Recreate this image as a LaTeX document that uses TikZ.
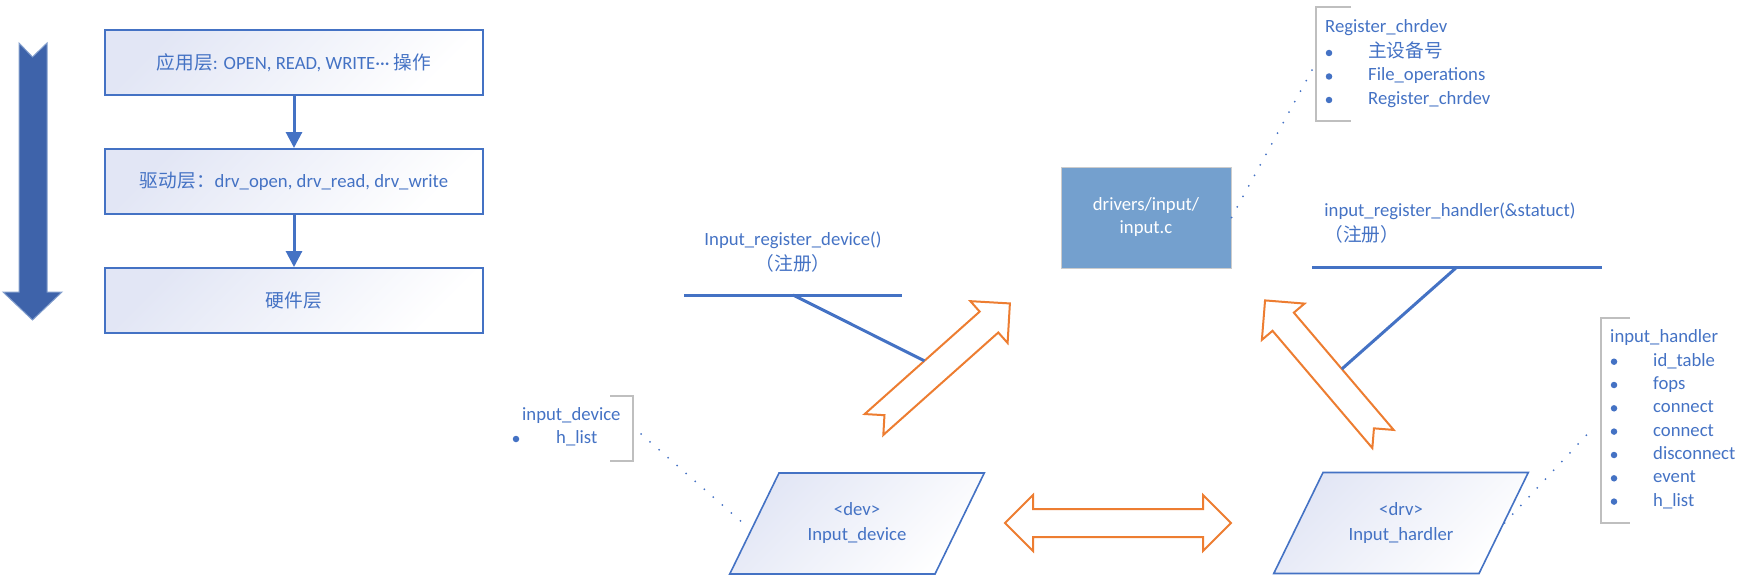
\documentclass[tikz,border=0pt]{standalone}
\usepackage{fontspec}
\setmainfont{Carlito}
\newfontfamily\cjk{Noto Sans CJK SC}
\usetikzlibrary{arrows.meta,shapes.geometric}

\definecolor{ink}{RGB}{68,114,196}
\definecolor{deepblue}{RGB}{62,99,170}
\definecolor{deepedge}{RGB}{130,158,205}
\definecolor{paleblue}{RGB}{226,230,245}
\definecolor{corefill}{RGB}{116,160,206}
\definecolor{oline}{RGB}{237,125,49}
\definecolor{brkgray}{RGB}{191,191,191}

\tikzset{
  blockarrow/.pic={
    \draw[oline, line width=2pt, fill=white, line join=miter]
      (0,-14) -- (14,0) -- (0,14) -- (154,14) -- (154,28)
      -- (182,0) -- (154,-28) -- (154,-14) -- cycle;
    \coordinate (-up) at (80,-14);
    \coordinate (-dn) at (80,14);
  }
}

\begin{document}
\begin{tikzpicture}[x=1pt, y=-1pt,
    every node/.style={font=\fontsize{18.7pt}{25pt}\selectfont, text=ink},
    layer/.style={draw=ink, line width=2pt, top color=paleblue, bottom color=white,
      shading angle=45, minimum width=378pt, minimum height=65pt},
    para/.style={trapezium, trapezium left angle=64, trapezium right angle=116,
      draw=ink, line width=1.6pt, top color=paleblue, bottom color=white,
      shading angle=45, text width=120pt, inner xsep=18pt, inner ysep=30pt,
      align=center},
    entry/.style={anchor=west, inner sep=0pt, text height=13pt, text depth=4pt},
    bul/.style={circle, fill=ink, inner sep=0pt, minimum size=6.5pt},
    callout/.style={draw=ink, line width=3pt},
    dots/.style={draw=ink, line width=2pt, line cap=round, dash pattern=on 0pt off 12pt},
    brk/.style={draw=brkgray, line width=1.5pt}]

  \useasboundingbox (0,0) rectangle (1744,583);

  % big downward arrow
  \filldraw[fill=deepblue, draw=deepedge, line width=1pt]
    (19,43) -- (32.5,57) -- (47,43) -- (47,292) -- (62,292)
    -- (32.5,320) -- (3,292) -- (19,292) -- cycle;

  \begin{scope}[every node/.style={layer, font=\fontsize{18.7pt}{25pt}\selectfont, text=ink}]
    \node (app) at (294,63) {{\cjk 应用层}: OPEN, READ, WRITE··· {\cjk 操作}};
    \node (drv) at (294,181.5) {{\cjk 驱动层：}drv\_open, drv\_read, drv\_write};
    \node (hw)  at (294,300.5) {{\cjk 硬件层}};
  \end{scope}

  \begin{scope}[every edge/.style={draw=ink, line width=3pt, -{Triangle[width=16pt,length=16pt]}}]
    \path (app) edge (drv);
    \path (drv) edge (hw);
  \end{scope}

  % input core
  \node[draw=gray!40, line width=1pt, fill=corefill, text=white, minimum width=170pt,
    minimum height=101pt, align=center,
    font=\fontsize{18.7pt}{23pt}\selectfont] (core) at (1146,217.5) {drivers/input/\\input.c};

  \draw[brk] (1351,7) -| (1316,121) -- (1351,121);
  \node[entry] (chrhead) at (1325,28) {Register\_chrdev};
  \node[bul] (chrb1) at (1329,53) {};
  \node[bul] (chrb2) at (1329,76.5) {};
  \node[bul] (chrb3) at (1329,100) {};
  \node[entry] (chr1) at (1368,53) {{\cjk 主设备号}};
  \node[entry] (chr2) at (1368,76.5) {File\_operations};
  \node[entry] (chr3) at (1368,100) {Register\_chrdev};
  \coordinate (chrdoc) at (1312,70);
  \draw[dots] (core.east) -- (chrdoc);

  % register labels
  \node[align=center] (regdev) at (793,252) {Input\_register\_device()\\{\cjk （注册）}};
  \node[align=left] (reghdl) at (1450,223) {input\_register\_handler(\&statuct)\\{\cjk （注册）}};
  \coordinate (regdevbar) at (793,295);
  \coordinate (reghdlbar) at (1457,267);

  \pic (larrow) [rotate=41.7] at (874,424.5) {blockarrow};
  \pic (rarrow) [rotate=130.4] at (1383,439) {blockarrow};

  \draw[callout] ([xshift=-109pt]regdevbar) -- ([xshift=109pt]regdevbar);
  \draw[callout] (regdevbar) -- (larrow-up);
  \draw[callout] ([xshift=-145pt]reghdlbar) -- ([xshift=145pt]reghdlbar);
  \draw[callout] (reghdlbar) -- (rarrow-dn);

  % dev and handler
  \node[para] (dev) at (857,523.5) {<dev>\\Input\_device};
  \node[para] (hdl) at (1401,523) {<drv>\\Input\_hardler};

  \draw[oline, line width=2pt, fill=white]
    (1005,523) -- (1033,495) -- (1033,509) -- (1203,509) -- (1203,495)
    -- (1231,523) -- (1203,551) -- (1203,537) -- (1033,537) -- (1033,551) -- cycle;

  \draw[brk] (610,396) -| (633,461) -- (610,461);
  \node[entry] (devhead) at (522,416) {input\_device};
  \node[bul] (devb1) at (516,439) {};
  \node[entry] (dev1) at (556,439) {h\_list};
  \coordinate (devdoc) at (641,434);
  \draw[dots] (devdoc) -- ([xshift=-10pt]dev.west);

  \draw[brk] (1630,318) -| (1601,523) -- (1630,523);
  \node[entry] (hdlhead) at (1610,338) {input\_handler};
  \node[bul] (hdlb1) at (1614,361.7) {};
  \node[bul] (hdlb2) at (1614,385) {};
  \node[bul] (hdlb3) at (1614,408.3) {};
  \node[bul] (hdlb4) at (1614,431.6) {};
  \node[bul] (hdlb5) at (1614,455) {};
  \node[bul] (hdlb6) at (1614,478.3) {};
  \node[bul] (hdlb7) at (1614,501.6) {};
  \node[entry] (hdl1) at (1653,361.7) {id\_table};
  \node[entry] (hdl2) at (1653,385) {fops};
  \node[entry] (hdl3) at (1653,408.3) {connect};
  \node[entry] (hdl4) at (1653,431.6) {connect};
  \node[entry] (hdl5) at (1653,455) {disconnect};
  \node[entry] (hdl6) at (1653,478.3) {event};
  \node[entry] (hdl7) at (1653,501.6) {h\_list};
  \coordinate (hdldoc) at (1594,427);
  \draw[dots] (hdl.east) -- (hdldoc);

\end{tikzpicture}
\end{document}
